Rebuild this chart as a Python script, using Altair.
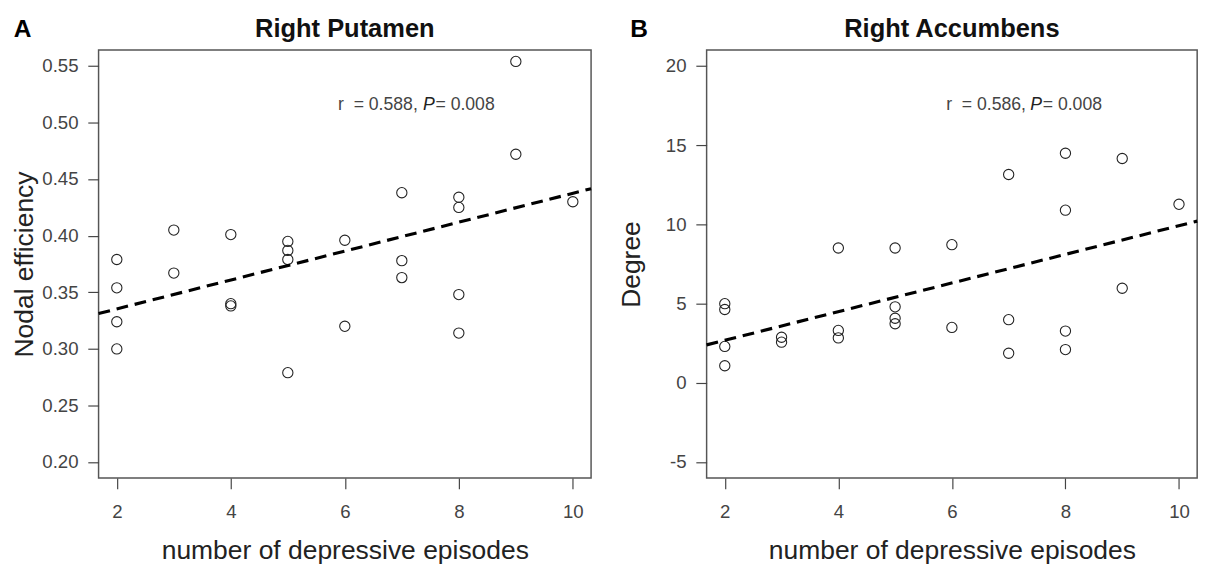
import altair as alt
import pandas as pd

FONT = "Liberation Sans, Arial, sans-serif"

# ---- data ----
episodes = [2, 2, 2, 2, 3, 3, 4, 4, 4, 5, 5, 5, 5, 6, 6, 7, 7, 7, 8, 8, 8, 8, 9, 9, 10]
nodal_efficiency = [0.379, 0.354, 0.324, 0.300, 0.405, 0.367, 0.401, 0.340, 0.338,
                    0.395, 0.387, 0.379, 0.279, 0.396, 0.320, 0.438, 0.378, 0.363,
                    0.434, 0.425, 0.348, 0.314, 0.554, 0.472, 0.430]
degree = [5.00, 4.63, 2.30, 1.08, 2.88, 2.57, 8.51, 3.31, 2.84,
          8.51, 4.80, 4.08, 3.73, 8.72, 3.50, 13.15, 3.99, 1.87,
          14.49, 10.90, 3.27, 2.10, 14.16, 5.97, 11.27]

x_ticks = [2, 4, 6, 8, 10]
x_domain = [1.68, 10.32]
ticks_A = [0.20, 0.25, 0.30, 0.35, 0.40, 0.45, 0.50, 0.55]
domain_A = [0.186, 0.564]
ticks_B = [-5, 0, 5, 10, 15, 20]
domain_B = [-6.0, 21.0]

panel_titles = ["Right Putamen", "Right Accumbens"]
panel_letters = ["A", "B"]
y_titles = ["Nodal efficiency", "Degree"]
x_title = "number of depressive episodes"

annot_A_text = ["r \u00a0= 0.588,", "P", "= 0.008"]
annot_A_x = [5.88, 7.37, 7.59]
annot_A_y = [0.515, 0.515, 0.515]
annot_B_text = ["r \u00a0= 0.586,", "P", "= 0.008"]
annot_B_x = [5.90, 7.38, 7.60]
annot_B_y = [17.5, 17.5, 17.5]

H = 437


def panel(values, y_ticks, y_domain, y_label_expr, y_title, y_title_x, title, letter,
          letter_dx, a_text, a_x, a_y, width):
    df = pd.DataFrame({"ep": episodes, "v": values})
    xs = alt.Scale(domain=x_domain, nice=False, zero=False)
    ys = alt.Scale(domain=y_domain, nice=False, zero=False)
    xax = alt.Axis(values=x_ticks, title=x_title, titleY=82,
                   titleBaseline="alphabetic", labelPadding=14, format="d")
    yax = alt.Axis(values=y_ticks, title=y_title, labelExpr=y_label_expr,
                   titleX=y_title_x, titleY=H / 2, titleAngle=-90,
                   titleBaseline="middle", labelPadding=10)
    base = alt.Chart(df)
    pts = base.mark_point(shape="circle", filled=False, size=110, color="#222",
                          strokeWidth=1.1, opacity=1).encode(
        x=alt.X("ep:Q", scale=xs, axis=xax),
        y=alt.Y("v:Q", scale=ys, axis=yax),
    )
    line = base.transform_regression("ep", "v", extent=x_domain).mark_line(
        color="#000", strokeWidth=3.2, strokeDash=[12, 7]).encode(
        x=alt.X("ep:Q", scale=xs), y=alt.Y("v:Q", scale=ys))
    adf = pd.DataFrame({"t": a_text, "x": a_x, "y": a_y, "it": [0, 1, 0]})
    ann_n = alt.Chart(adf).transform_filter("datum.it == 0").mark_text(
        align="left", baseline="middle", fontSize=18, font=FONT, color="#444").encode(
        x=alt.X("x:Q", scale=xs), y=alt.Y("y:Q", scale=ys), text="t:N")
    ann_i = alt.Chart(adf).transform_filter("datum.it == 1").mark_text(
        align="left", baseline="middle", fontSize=18, font=FONT, color="#222",
        fontStyle="italic").encode(
        x=alt.X("x:Q", scale=xs), y=alt.Y("y:Q", scale=ys), text="t:N")
    let = alt.Chart(pd.DataFrame({"t": [letter]})).mark_text(
        align="center", baseline="middle", fontSize=25, fontWeight="bold",
        font=FONT, color="#000").encode(
        x=alt.value(letter_dx), y=alt.value(-21), text="t:N")
    ttl = alt.Chart(pd.DataFrame({"t": [title]})).mark_text(
        align="center", baseline="middle", fontSize=26, fontWeight="bold",
        font=FONT, color="#111").encode(
        x=alt.value(width / 2), y=alt.value(-21), text="t:N")
    return alt.layer(pts, line, ann_n, ann_i, let, ttl).properties(
        width=width, height=H)


expr_A = "format(datum.value, '.2f')"
expr_B = "datum.value < 0 ? '-' + format(-datum.value, 'd') : format(datum.value, 'd')"

pA = panel(nodal_efficiency, ticks_A, domain_A, expr_A, y_titles[0], -75.5,
           panel_titles[0], panel_letters[0], -77.5,
           annot_A_text, annot_A_x, annot_A_y, 503)
pB = panel(degree, ticks_B, domain_B, expr_B, y_titles[1], -77, panel_titles[1],
           panel_letters[1], -69, annot_B_text, annot_B_x, annot_B_y, 501)

chart = alt.hconcat(pA, pB, spacing=18).properties(
    padding={"left": 1.5, "top": 2, "right": 0, "bottom": 0},
    background="white",
).configure_view(stroke="#555", strokeWidth=1.5).configure_axis(
    domain=False, grid=False, tickSize=11, tickColor="#444", tickWidth=1.2,
    labelFont=FONT, labelFontSize=19, labelColor="#444",
    titleFont=FONT, titleFontSize=27, titleColor="#222", titleFontWeight="normal"
)

chart.save("out.html", embed_options={"renderer": "svg", "actions": False})
